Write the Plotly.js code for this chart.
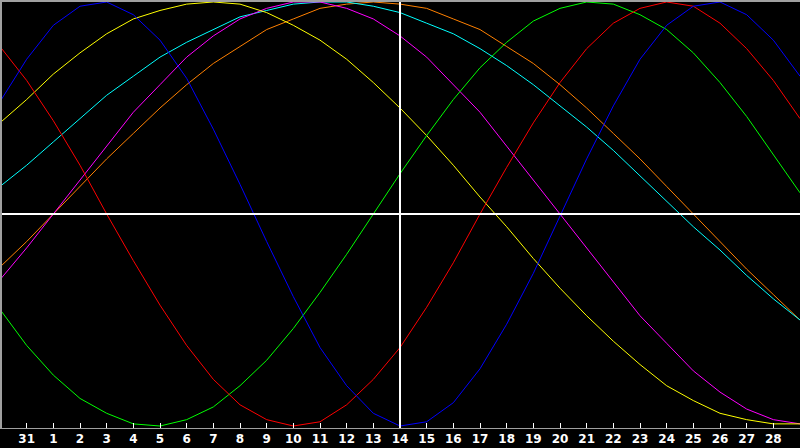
<!DOCTYPE html>
<html>
<head>
<meta charset="utf-8">
<script src="https://cdn.plot.ly/plotly-3.0.1.min.js"></script>
<style>
  html, body { margin: 0; padding: 0; background: #000; }
  #chart { width: 800px; height: 448px; }
</style>
</head>
<body>
<div id="chart"></div>
<script>
// day labels under each daily point (previous month end, then the 28-day month)
const dayLabels = ['30', '31', '1', '2', '3', '4', '5', '6', '7', '8', '9', '10', '11', '12', '13',
  '14', '15', '16', '17', '18', '19', '20', '21', '22', '23', '24', '25', '26', '27', '28', '1'];
const todayIndex = 15; // the "14"

// cycle values in percent, one per day
const blue = [53, 73, 89, 98, 100, 94, 82, 64, 40, 14, -13, -39, -63, -81, -94, -100,
  -98, -89, -73, -52, -28, -1, 26, 51, 73, 89, 98, 100, 94, 82, 65];
const red = [79, 63, 44, 23, 0, -22, -43, -62, -78, -90, -97, -100, -98, -90, -78, -63,
  -44, -23, 0, 22, 43, 62, 78, 90, 97, 100, 98, 90, 78, 63, 45];
const green = [-45, -62, -76, -87, -94, -99, -100, -97, -91, -81, -69, -54, -37, -19, 0, 19,
  37, 54, 69, 81, 91, 97, 100, 99, 94, 87, 76, 62, 46, 28, 10];
const yellow = [43, 54, 66, 76, 85, 92, 96, 99, 100, 99, 95, 89, 82, 73, 62, 50,
  37, 23, 8, -6, -21, -35, -48, -60, -71, -81, -88, -94, -97, -99, -99];
const magenta = [-31, -16, 0, 16, 32, 48, 61, 74, 84, 92, 97, 100, 100, 97, 92, 84,
  74, 61, 48, 32, 16, 0, -16, -32, -48, -61, -74, -84, -92, -97, -99];
const cyan = [13, 23, 34, 45, 56, 65, 74, 81, 87, 93, 96, 99, 100, 100, 98, 95,
  90, 85, 78, 70, 61, 51, 41, 30, 18, 6, -6, -17, -29, -40, -50];
const orange = [-25, -13, 0, 13, 26, 38, 50, 61, 71, 79, 87, 92, 97, 99, 100, 99,
  97, 92, 87, 79, 71, 61, 50, 38, 26, 13, 0, -13, -26, -38, -50];

const xs = dayLabels.map((d, i) => i);

const series = [
  { y: orange, color: '#ff8000' },
  { y: cyan, color: '#00ffff' },
  { y: magenta, color: '#ff00ff' },
  { y: yellow, color: '#ffff00' },
  { y: green, color: '#00ff00' },
  { y: red, color: '#ff0000' },
  { y: blue, color: '#0000ff' },
];

const data = series.map((s) => ({
  x: xs,
  y: s.y,
  type: 'scatter',
  mode: 'lines',
  line: { color: s.color, width: 1 },
  hoverinfo: 'skip',
}));

const tickIdx = xs.slice(1, -1);

const layout = {
  width: 800,
  height: 448,
  margin: { l: 0, r: 0, t: 0, b: 20 },
  paper_bgcolor: '#000',
  plot_bgcolor: '#000',
  showlegend: false,
  xaxis: {
    range: [0, 30],
    showgrid: false,
    zeroline: false,
    showline: true,
    linecolor: '#a0a0a0',
    linewidth: 1,
    ticks: 'inside',
    ticklen: 5,
    tickcolor: '#ffffff',
    tickwidth: 1,
    tickvals: tickIdx,
    ticktext: tickIdx.map((i) => dayLabels[i]),
    tickfont: { family: 'DejaVu Sans', size: 12, color: '#ffffff', weight: 'bold' },
    fixedrange: true,
  },
  yaxis: {
    range: [-100.94, 100.94],
    showgrid: false,
    zeroline: true,
    zerolinecolor: '#ffffff',
    zerolinewidth: 2,
    showticklabels: false,
    ticks: '',
    fixedrange: true,
  },
  shapes: [
    // today marker
    { type: 'line', xref: 'x', yref: 'paper', x0: todayIndex, x1: todayIndex, y0: 0, y1: 1,
      line: { color: '#ffffff', width: 2 }, layer: 'above' },
    // zero line on top of the curves
    { type: 'line', xref: 'paper', yref: 'y', x0: 0, x1: 1, y0: 0, y1: 0,
      line: { color: '#ffffff', width: 2 }, layer: 'above' },
    // left and top frame
    { type: 'line', xref: 'paper', yref: 'paper', x0: 0, x1: 0, y0: 0, y1: 1,
      line: { color: '#a0a0a0', width: 4 }, layer: 'above' },
    { type: 'line', xref: 'paper', yref: 'paper', x0: 0, x1: 1, y0: 1, y1: 1,
      line: { color: '#a0a0a0', width: 4 }, layer: 'above' },
  ],
};

Plotly.newPlot('chart', data, layout, { displayModeBar: false, staticPlot: true });
</script>
</body>
</html>
